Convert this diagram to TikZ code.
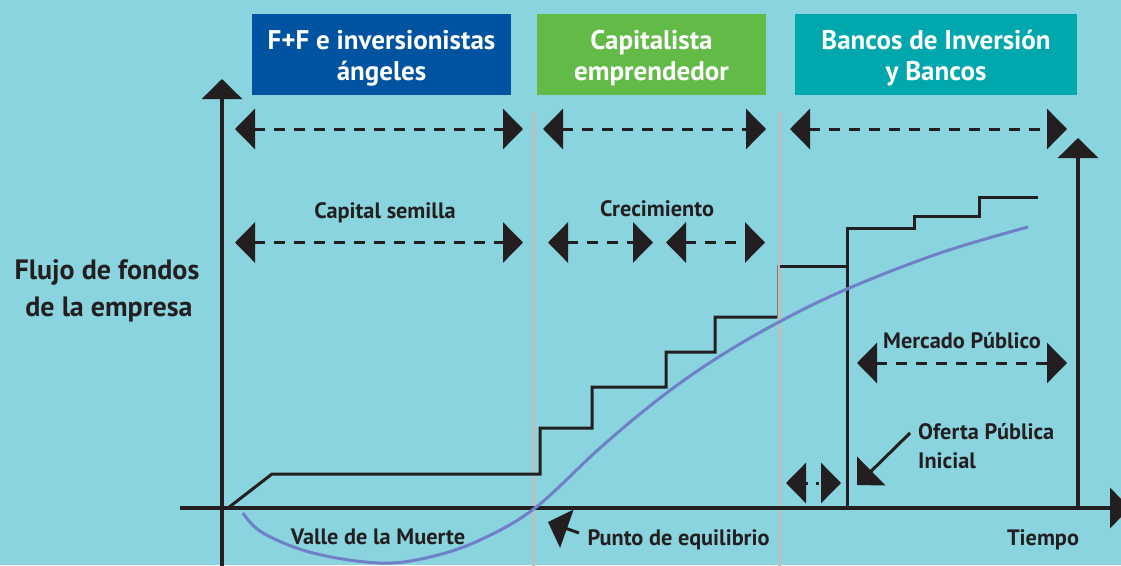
\documentclass[tikz,border=0pt]{standalone}
\usepackage{fontspec}
\setmainfont{PT Sans}
\usetikzlibrary{arrows.meta}
\definecolor{bgc}{RGB}{137,212,222}
\definecolor{ink}{RGB}{35,31,32}
\definecolor{boxblue}{RGB}{0,83,160}
\definecolor{boxgreen}{RGB}{98,186,71}
\definecolor{boxteal}{RGB}{0,168,174}
\definecolor{sepgray}{RGB}{190,190,190}
\definecolor{curveblue}{RGB}{112,128,200}
\begin{document}
\begin{tikzpicture}[x=1pt,y=-1pt,
  >={Triangle[length=20pt,width=40pt]},
  lbl/.style={font=\fontsize{22.3}{30}\selectfont\bfseries, text=ink, inner sep=0pt, anchor=base},
  biglbl/.style={font=\fontsize{28}{37}\selectfont\bfseries, text=ink, inner sep=0pt, anchor=base},
  titlebox/.style={minimum height=81pt, inner sep=0pt},
  titletext/.style={font=\fontsize{27}{31}\selectfont\bfseries, text=white, align=center, inner sep=0pt, yshift=-3.5pt},
  axisline/.style={draw=ink, line width=3.2pt},
  dasharrow/.style={draw=ink, line width=3pt, dash pattern=on 11pt off 9pt, <->},
  stepline/.style={draw=ink, line width=3pt, line join=miter},
  sepline/.style={draw=sepgray, line width=3pt},
  growth/.style={draw=curveblue, line width=3pt},
  pointer/.style={draw=ink, line width=3pt, ->}
]
\useasboundingbox[fill=bgc] (0,0) rectangle (1121,565);

% separators
\draw[sepline] (533,112) -- (533,570);
\draw[sepline] (779,112) -- (779,570);

% title boxes
\node[titlebox, fill=boxblue, minimum width=259pt] (t1) at (381.5,54.5) {};
\node[titletext] (t1t) at (t1.center) {F+F e inversionistas\\ángeles};
\node[titlebox, fill=boxgreen, minimum width=229pt] (t2) at (651.5,54.5) {};
\node[titletext] (t2t) at (t2.center) {Capitalista\\emprendedor};
\node[titlebox, fill=boxteal, minimum width=282pt] (t3) at (936,54.5) {};
\node[titletext] (t3t) at (t3.center) {Bancos de Inversión\\y Bancos};

% axes
\coordinate (ybot) at (222,570);
\coordinate (ytop) at (222,79);
\coordinate (xl) at (180,508);
\coordinate (xr) at (1130,508);
\coordinate (rbot) at (1078,508);
\coordinate (rtop) at (1078,138);
\draw[axisline,->] (ybot) -- (ytop);
\draw[axisline,->] (xl) -- (xr);
\draw[axisline,->] (rbot) -- (rtop);

% dashed arrows
\coordinate (a1l) at (235,129); \coordinate (a1r) at (523,129);
\coordinate (a2l) at (543,129); \coordinate (a2r) at (766,129);
\coordinate (a3l) at (790,129); \coordinate (a3r) at (1067,129);
\coordinate (b1l) at (235,242.5); \coordinate (b1r) at (523,242.5);
\coordinate (b2l) at (548,242.5); \coordinate (b2r) at (653,242.5);
\coordinate (b3l) at (666,242.5); \coordinate (b3r) at (765,242.5);
\coordinate (ml) at (857,363); \coordinate (mr) at (1067,363);
\coordinate (sl) at (786,483); \coordinate (sr) at (841,483);
\draw[dasharrow] (a1l) -- (a1r);
\draw[dasharrow] (a2l) -- (a2r);
\draw[dasharrow] (a3l) -- (a3r);
\draw[dasharrow] (b1l) -- (b1r);
\draw[dasharrow] (b2l) -- (b2r);
\draw[dasharrow] (b3l) -- (b3r);
\draw[dasharrow] (ml) -- (mr);
\draw[dasharrow, dash pattern=on 3pt off 8pt] (sl) -- (sr);

% step funding line
\draw[stepline] (228,508) -- (272,474) -- (540,474) -- (540,428) -- (592,428) -- (592,387)
  -- (666,387) -- (666,352) -- (715,352) -- (715,317) -- (777,317);
\draw[draw=ink!60, line width=1pt] (777.5,265) -- (777.5,318);
\draw[stepline] (780,266) -- (847,266);
\draw[stepline] (847,508) -- (847,228) -- (914,228) -- (914,216) -- (979,216) -- (979,197) -- (1038,197);

% growth curve
\draw[growth] plot[smooth, tension=0.6] coordinates {(243,513) (263,533) (313,553) (380,563) (430,557) (480,540) (535,508) (600,448) (660,398) (717,358) (779,322) (847,289) (940,253) (1028,227)};

% labels
\node[biglbl] (ylab1) at (107,279) {Flujo de fondos};
\node[biglbl] (ylab2) at (109,316) {de la empresa};
\node[lbl] (cs) at (385,218) {Capital semilla};
\node[lbl] (cr) at (657,216) {Crecimiento};
\node[lbl] (mp) at (962,348) {Mercado Público};
\node[lbl, anchor=base west] (op1) at (918,439) {Oferta Pública};
\node[lbl, anchor=base west] (op2) at (918,468) {Inicial};
\node[lbl] (vm) at (378,544) {Valle de la Muerte};
\node[lbl] (pe) at (678.5,545) {Punto de equilibrio};
\node[lbl] (ti) at (1043,545) {Tiempo};

% pointers
\coordinate (opS) at (910,433); \coordinate (opT) at (857,485);
\coordinate (peS) at (579,533); \coordinate (peT) at (548,522);
\draw[pointer] (opS) -- (opT);
\draw[pointer] (peS) -- (peT);
\end{tikzpicture}
\end{document}
